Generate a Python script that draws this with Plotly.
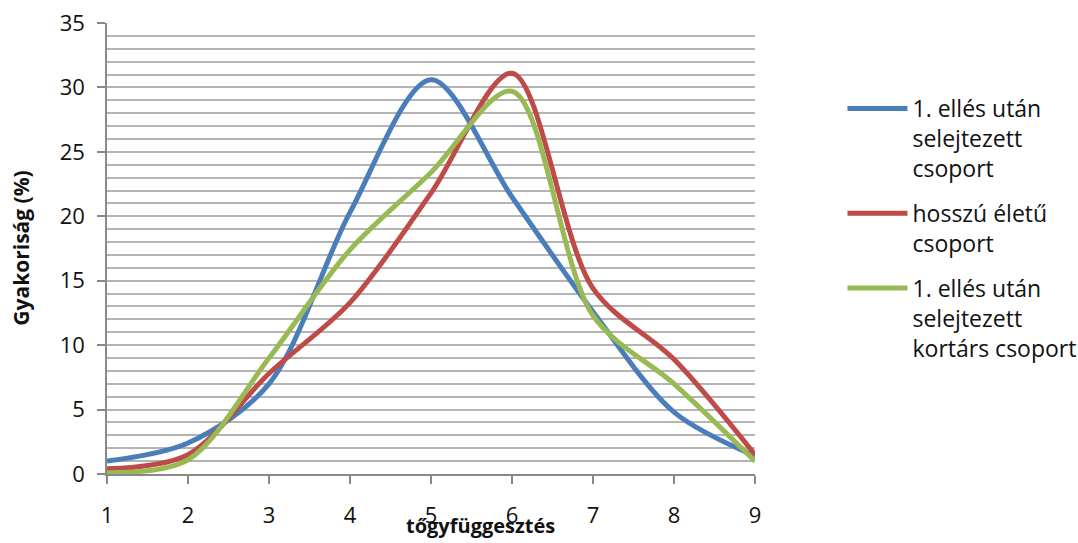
import plotly.graph_objects as go

x_vals = [1, 2, 3, 4, 5, 6, 7, 8, 9]
series_names = [
    "1. ellés után<br>selejtezett<br>csoport",
    "hosszú életű<br>csoport",
    "1. ellés után<br>selejtezett<br>kortárs csoport",
]
blue_vals = [1.0, 2.4, 7.0, 20.3, 30.6, 21.5, 12.6, 4.8, 1.4]
red_vals = [0.4, 1.5, 7.8, 13.3, 21.8, 31.1, 14.4, 8.9, 1.5]
green_vals = [0.1, 1.1, 9.0, 17.4, 23.4, 29.7, 12.3, 7.0, 1.0]
colors = ["#4A7EBB", "#BE4B48", "#98B954"]

font_family = "Open Sans, Liberation Sans, sans-serif"

fig = go.Figure()
for i, (name, vals, col) in enumerate(zip(series_names, [blue_vals, red_vals, green_vals], colors)):
    fig.add_trace(go.Scatter(
        x=x_vals, y=vals, name=name, mode="lines", legendgroup=str(i),
        line=dict(color=col, width=5, shape="spline", smoothing=0.9),
    ))

fig.update_layout(
    width=1078, height=543,
    margin=dict(l=107, r=323, t=23, b=69, autoexpand=False),
    paper_bgcolor="white", plot_bgcolor="white",
    font=dict(family=font_family, size=22, color="#111111"),
    showlegend=True,
    legend=dict(
        x=1.135, y=0.858, xanchor="left", yanchor="top",
        valign="top", font=dict(size=23, color="#111111"),
        tracegroupgap=12, itemwidth=60,
    ),
    xaxis=dict(
        range=[1, 9], tickmode="linear", tick0=1, dtick=1,
        showgrid=False, zeroline=False,
        showline=True, linecolor="#888888", linewidth=1.5,
        ticks="outside", ticklen=8, tickcolor="#888888", tickwidth=1.5,
        tickfont=dict(size=22), ticklabelstandoff=13,
    ),
    yaxis=dict(
        range=[0, 35], tickmode="linear", tick0=0, dtick=5,
        showgrid=True, gridcolor="#b4b4b4", gridwidth=1.5,
        minor=dict(dtick=1, showgrid=True, gridcolor="#b4b4b4", gridwidth=1.5),
        zeroline=False,
        showline=True, linecolor="#888888", linewidth=1.5,
        ticks="outside", ticklen=8, tickcolor="#888888", tickwidth=1.5,
        tickfont=dict(size=22), ticklabelstandoff=8,
    ),
    annotations=[
        dict(
            text="<b>tőgyfüggesztés</b>", x=0.577, xref="paper",
            y=-0.115, yref="paper", yanchor="middle", xanchor="center",
            showarrow=False, font=dict(size=20),
        ),
        dict(
            text="<b>Gyakoriság (%)</b>", x=-0.134, xref="paper",
            y=0.5, yref="paper", yanchor="middle", xanchor="center",
            showarrow=False, font=dict(size=21), textangle=-90,
        ),
    ],
)

fig.write_html("out.html")
